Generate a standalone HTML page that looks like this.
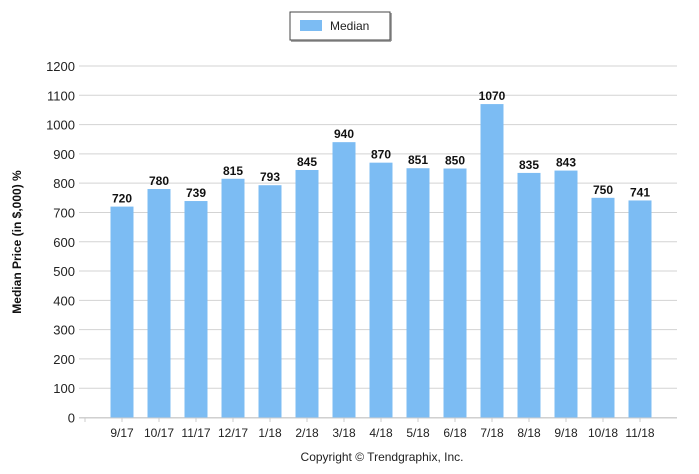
<!DOCTYPE html>
<html><head><meta charset="utf-8"><style>
body{margin:0;background:#fff;font-family:"Liberation Sans",sans-serif}
</style></head><body>
<svg width="699" height="469" xmlns="http://www.w3.org/2000/svg">
<g>
<rect x="290" y="12" width="100" height="28" fill="#fff" stroke="#444" stroke-width="1"/>
<line x1="291" y1="41" x2="391" y2="41" stroke="#888" stroke-width="1.5"/>
<line x1="391" y1="13" x2="391" y2="41" stroke="#888" stroke-width="1.5"/>
<rect x="300" y="20" width="22" height="11" fill="#7cbcf3"/>
<text x="330" y="30" font-size="12" fill="#222">Median</text>
</g>
<text transform="translate(21,242) rotate(-90)" text-anchor="middle" font-size="12" font-weight="bold" fill="#111">Median Price (in $,000) %</text>
<g id="grid"></g><g id="bars"></g><g id="xaxis"></g>
<text x="382" y="461" text-anchor="middle" font-size="12" fill="#222">Copyright © Trendgraphix, Inc.</text>
</svg>
<script>
const categories=["9/17","10/17","11/17","12/17","1/18","2/18","3/18","4/18","5/18","6/18","7/18","8/18","9/18","10/18","11/18"];
const values=[720,780,739,815,793,845,940,870,851,850,1070,835,843,750,741];
const yTicks=[0,100,200,300,400,500,600,700,800,900,1000,1100,1200];
const NS="http://www.w3.org/2000/svg";
const y0=417.5,yMax=1200,yTop=66;
function yS(v){return y0-(v/yMax)*(y0-yTop);}
function xS(i){return 85+37*(i+1);}
function mk(t,a,p){const e=document.createElementNS(NS,t);for(const k in a)e.setAttribute(k,a[k]);p.appendChild(e);return e;}
const grid=document.getElementById('grid'),bars=document.getElementById('bars'),xa=document.getElementById('xaxis');
yTicks.forEach(v=>{
 const l=mk('line',{x1:79,x2:677,y1:yS(v),y2:yS(v),stroke:'#d3d3d3','stroke-width':1},grid);
 
 
 const t=mk('text',{x:75,y:yS(v)+5,'text-anchor':'end','font-size':13,fill:'#222'},grid);
 t.textContent=v;
 
 
});
mk('line',{x1:79,x2:677,y1:418,y2:418,stroke:'#ccc'},xa);
for(let i=0;i<=15;i++){mk('line',{x1:85+37*i,x2:85+37*i,y1:418,y2:422,stroke:'#ccc'},xa);}
categories.forEach((c,i)=>{
 const r=mk('rect',{x:xS(i)-11.5,y:yS(values[i]),width:23,height:y0-yS(values[i]),fill:'#7cbcf3'},bars);
 
 
 const vt=mk('text',{x:xS(i),y:yS(values[i])-4,'text-anchor':'middle','font-size':12,'font-weight':'bold',fill:'#111'},bars);
 vt.textContent=values[i];
 
 
 const xt=mk('text',{x:xS(i),y:437,'text-anchor':'middle','font-size':12,fill:'#222'},xa);
 xt.textContent=c;
 
 
});
</script>
</body></html>
